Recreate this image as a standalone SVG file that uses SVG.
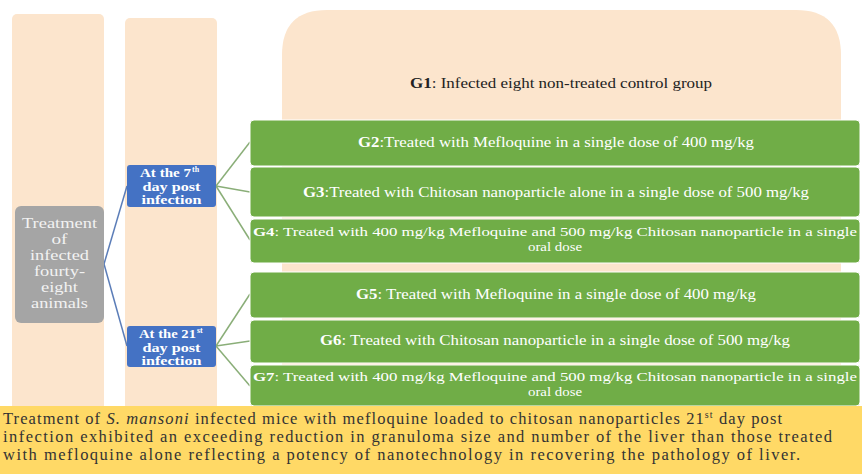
<svg xmlns="http://www.w3.org/2000/svg" width="862" height="474" viewBox="0 0 862 474">
<style>
.peach{fill:#FCE5CD}
.green{fill:#70AD47;stroke:#ffffff;stroke-width:1}
.blue{fill:#4472C4}
.gray{fill:#A5A5A5}
text{font-family:"Liberation Serif","Times New Roman","DejaVu Serif",serif}
.gt{font-size:14.5px;fill:#ffffff}
.gt2{font-size:13.5px;fill:#ffffff}
.bt{font-size:12px;font-weight:bold;fill:#ffffff}
.sup{font-size:8px;font-weight:bold;fill:#ffffff}
.grt{font-size:15px;fill:#F2F2F2}
.g1t{font-size:14.5px;fill:#222222}
.ban{font-size:16.5px;fill:#333333}
.c1{stroke:#5B7DB8;stroke-width:1.5;fill:none}
.c2{stroke:#8AAE78;stroke-width:1.5;fill:none}
</style>
<rect x="0" y="0" width="862" height="474" fill="#ffffff"/>
<g id="col1"><rect class="peach" x="12" y="14" width="92" height="400" rx="5"/></g>
<g id="col2"><rect class="peach" x="125" y="18" width="92" height="396" rx="5"/></g>
<g id="G1">
<path class="peach" d="M282 410 V55 Q282 10 327 10 H796 Q841 10 841 55 V410 Z"/>
<text class="g1t" x="561" y="88" text-anchor="middle" textLength="302" lengthAdjust="spacingAndGlyphs"><tspan font-weight="bold">G1</tspan>:  Infected eight non-treated control group</text>
</g>
<g id="connectors">
<path class="c1" d="M104 264 L127 186"/>
<path class="c1" d="M104 264 L127 346"/>
<path class="c2" d="M216 186 L250 142"/>
<path class="c2" d="M216 186 L250 192"/>
<path class="c2" d="M216 186 L250 240"/>
<path class="c2" d="M216 346 L250 294"/>
<path class="c2" d="M216 346 L250 341"/>
<path class="c2" d="M216 346 L250 386"/>
</g>
<g id="treatment">
<rect class="gray" x="15" y="206" width="89" height="117" rx="6"/>
<text class="grt" x="59.5" y="228" text-anchor="middle" textLength="75" lengthAdjust="spacingAndGlyphs">Treatment</text>
<text class="grt" x="59.5" y="244" text-anchor="middle" textLength="16" lengthAdjust="spacingAndGlyphs">of</text>
<text class="grt" x="59.5" y="260" text-anchor="middle" textLength="59" lengthAdjust="spacingAndGlyphs">infected</text>
<text class="grt" x="59.5" y="276" text-anchor="middle" textLength="51" lengthAdjust="spacingAndGlyphs">fourty-</text>
<text class="grt" x="59.5" y="292" text-anchor="middle" textLength="37" lengthAdjust="spacingAndGlyphs">eight</text>
<text class="grt" x="59.5" y="308" text-anchor="middle" textLength="57" lengthAdjust="spacingAndGlyphs">animals</text>
</g>
<g id="day7">
<rect class="blue" x="127" y="165" width="89" height="42" rx="3"/>
<text class="bt" x="140" y="177" textLength="51" lengthAdjust="spacingAndGlyphs">At the 7</text>
<text class="sup" x="192" y="172">th</text>
<text class="bt" x="171.5" y="191" text-anchor="middle" textLength="58" lengthAdjust="spacingAndGlyphs">day post</text>
<text class="bt" x="171.5" y="204" text-anchor="middle" textLength="60" lengthAdjust="spacingAndGlyphs">infection</text>
</g>
<g id="day21">
<rect class="blue" x="127" y="326" width="89" height="41" rx="3"/>
<text class="bt" x="139" y="338" textLength="57" lengthAdjust="spacingAndGlyphs">At the 21</text>
<text class="sup" x="197" y="333">st</text>
<text class="bt" x="171.5" y="352" text-anchor="middle" textLength="58" lengthAdjust="spacingAndGlyphs">day post</text>
<text class="bt" x="171.5" y="365" text-anchor="middle" textLength="60" lengthAdjust="spacingAndGlyphs">infection</text>
</g>
<g id="G2">
<rect class="green" x="250" y="120" width="610" height="46" rx="4"/>
<text class="gt" x="556" y="147" text-anchor="middle" textLength="396" lengthAdjust="spacingAndGlyphs"><tspan font-weight="bold">G2</tspan>:Treated with Mefloquine in a single dose of 400 mg/kg</text>
</g>
<g id="G3">
<rect class="green" x="250" y="167" width="610" height="50" rx="4"/>
<text class="gt" x="556" y="197" text-anchor="middle" textLength="506" lengthAdjust="spacingAndGlyphs"><tspan font-weight="bold">G3</tspan>:Treated with Chitosan nanoparticle alone in a single dose of 500 mg/kg</text>
</g>
<g id="G4">
<rect class="green" x="250" y="219" width="610" height="44" rx="4"/>
<text class="gt2" x="555" y="236" text-anchor="middle" textLength="604" lengthAdjust="spacingAndGlyphs"><tspan font-weight="bold">G4</tspan>: Treated with 400 mg/kg Mefloquine and 500 mg/kg Chitosan nanoparticle in a single</text>
<text class="gt2" x="555" y="251" text-anchor="middle" textLength="54" lengthAdjust="spacingAndGlyphs">oral dose</text>
</g>
<g id="G5">
<rect class="green" x="250" y="272" width="610" height="46" rx="4"/>
<text class="gt" x="556" y="299" text-anchor="middle" textLength="400" lengthAdjust="spacingAndGlyphs"><tspan font-weight="bold">G5</tspan>:  Treated with Mefloquine in a single dose of 400 mg/kg</text>
</g>
<g id="G6">
<rect class="green" x="250" y="320" width="610" height="43" rx="4"/>
<text class="gt" x="555" y="345" text-anchor="middle" textLength="470" lengthAdjust="spacingAndGlyphs"><tspan font-weight="bold">G6</tspan>:  Treated with Chitosan nanoparticle in a single dose of 500 mg/kg</text>
</g>
<g id="G7">
<rect class="green" x="250" y="365" width="610" height="41" rx="4"/>
<text class="gt2" x="555" y="381" text-anchor="middle" textLength="604" lengthAdjust="spacingAndGlyphs"><tspan font-weight="bold">G7</tspan>: Treated with 400 mg/kg Mefloquine and 500 mg/kg Chitosan nanoparticle in a single</text>
<text class="gt2" x="555" y="396" text-anchor="middle" textLength="54" lengthAdjust="spacingAndGlyphs">oral dose</text>
</g>
<g id="banner">
<rect x="0" y="406" width="862" height="68" fill="#FFD966"/>
<text class="ban" x="3" y="424" textLength="779" lengthAdjust="spacing">Treatment of <tspan font-style="italic">S. mansoni</tspan> infected mice with mefloquine loaded to chitosan nanoparticles 21<tspan font-size="10" dy="-6">st</tspan><tspan dy="6"> day post</tspan></text>
<text class="ban" x="3" y="442" textLength="829" lengthAdjust="spacing">infection exhibited an exceeding reduction in granuloma size and number of the liver than those treated</text>
<text class="ban" x="3" y="460" textLength="797" lengthAdjust="spacing">with mefloquine alone reflecting a potency of nanotechnology in recovering the pathology of liver.</text>
</g>
</svg>
